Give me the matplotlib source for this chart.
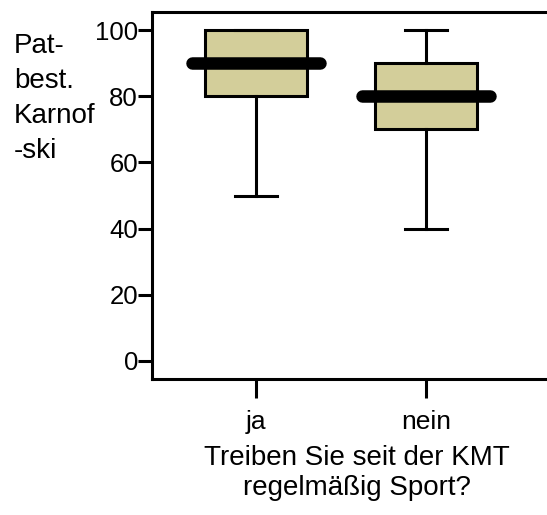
import matplotlib
matplotlib.use('Agg')
import matplotlib.pyplot as plt

plt.rcParams['font.family'] = ['Liberation Sans', 'DejaVu Sans']

# data
categories = ['ja', 'nein']
whisker_low = [50, 40]
q1 = [80, 70]
median = [90, 80]
q3 = [100, 90]
whisker_high = [100, 100]
y_ticks = [0, 20, 40, 60, 80, 100]

box_color = '#d3ce9a'

fig = plt.figure(figsize=(5.47, 5.15), dpi=100)
ax = fig.add_axes([152/547, 1-379/515, 410/547, 367/515])

stats = []
for i, c in enumerate(categories):
    stats.append({'label': c, 'whislo': whisker_low[i], 'q1': q1[i], 'med': median[i],
                  'q3': q3[i], 'whishi': whisker_high[i], 'fliers': []})

pos = list(range(len(categories)))
bp = ax.bxp(stats, positions=pos, widths=0.6, patch_artist=True, showfliers=False,
            boxprops=dict(facecolor=box_color, edgecolor='black', linewidth=2.2),
            whiskerprops=dict(color='black', linewidth=2.2),
            capprops=dict(color='black', linewidth=2.2),
            medianprops=dict(linewidth=0), capwidths=0.25)

# thick median bars, wider than the boxes
for p, m in zip(pos, median):
    ax.plot([p - 0.375, p + 0.375], [m, m], color='black', lw=9,
            solid_capstyle='round', zorder=5)

ax.set_xlim(-0.612, 1.8)
ax.set_ylim(-5.5, 105.5)
ax.set_yticks(y_ticks)
ax.set_xticks(pos)
ax.set_xticklabels(categories)
ax.tick_params(axis='both', labelsize=18.5, width=2.2, direction='out')
ax.tick_params(axis='y', pad=0, length=10)
ax.tick_params(axis='x', pad=8, length=14, labelsize=19)
for s in ax.spines.values():
    s.set_linewidth(2.2)

ax.set_xlabel('Treiben Sie seit der KMT\nregelmäßig Sport?', fontsize=20, labelpad=8)

fig.text(14/547, 1-33/515, 'Pat-\nbest.\nKarnof\n-ski', fontsize=20, ha='left',
         va='top', linespacing=1.45)

fig.savefig('out.png', dpi=100)
